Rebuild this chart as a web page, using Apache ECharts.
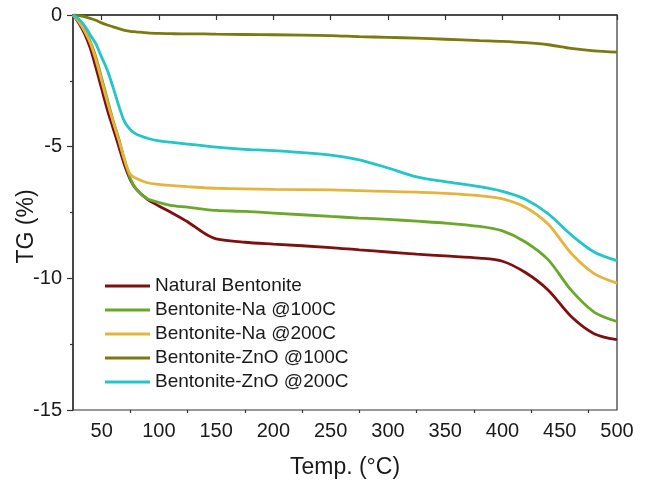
<!DOCTYPE html>
<html>
<head>
<meta charset="utf-8">
<script src="https://cdn.jsdelivr.net/npm/echarts@6/dist/echarts.min.js"></script>
<style>
  html, body { margin: 0; padding: 0; background: #fff; }
  #tg { width: 646px; height: 481px; }
</style>
</head>
<body>
<div id="tg"></div>
<script>
// temperature points (°C)
var temps = [25, 30, 35, 40, 45, 50, 55, 60, 65, 70, 75, 80, 90, 100, 110, 125, 140, 150, 175, 200, 250, 275, 300, 325, 350, 380, 400, 420, 440, 460, 480, 500];

// TG (%) for each sample
var natural  = [0, -0.3, -0.7, -1.25, -2.0, -2.8, -3.6, -4.3, -5.0, -5.7, -6.25, -6.6, -7.0, -7.25, -7.48, -7.85, -8.3, -8.5, -8.63, -8.7, -8.83, -8.92, -9.0, -9.08, -9.15, -9.23, -9.35, -9.78, -10.45, -11.45, -12.1, -12.33];
var na100    = [0, -0.2, -0.55, -1.0, -1.6, -2.4, -3.2, -4.0, -4.7, -5.5, -6.2, -6.6, -6.98, -7.12, -7.23, -7.3, -7.38, -7.42, -7.46, -7.52, -7.65, -7.71, -7.76, -7.83, -7.9, -8.03, -8.2, -8.62, -9.3, -10.45, -11.28, -11.64];
var na200    = [0, -0.25, -0.6, -1.05, -1.7, -2.5, -3.3, -4.05, -4.75, -5.5, -6.05, -6.2, -6.37, -6.43, -6.47, -6.52, -6.56, -6.58, -6.6, -6.62, -6.64, -6.67, -6.7, -6.73, -6.77, -6.86, -6.98, -7.3, -7.95, -9.05, -9.82, -10.18];
var zno100   = [0, -0.02, -0.06, -0.13, -0.2, -0.3, -0.38, -0.45, -0.52, -0.58, -0.62, -0.64, -0.68, -0.7, -0.71, -0.72, -0.72, -0.73, -0.74, -0.75, -0.78, -0.82, -0.85, -0.88, -0.92, -0.97, -1.0, -1.05, -1.13, -1.27, -1.36, -1.41];
var zno200   = [0, -0.15, -0.4, -0.75, -1.1, -1.6, -2.1, -2.75, -3.45, -4.05, -4.35, -4.52, -4.68, -4.78, -4.83, -4.9, -4.97, -5.02, -5.1, -5.15, -5.32, -5.5, -5.81, -6.15, -6.33, -6.52, -6.7, -7.0, -7.55, -8.35, -9.0, -9.33];

var names = ["Natural Bentonite", "Bentonite-Na @100C", "Bentonite-Na @200C", "Bentonite-ZnO @100C", "Bentonite-ZnO @200C"];
var xTicks = [50, 100, 150, 200, 250, 300, 350, 400, 450, 500];
var xMinorTicks = [75, 125, 175, 225, 275, 325, 375, 425, 475];

function pairs(vals) {
  return temps.map(function (t, i) { return [t, vals[i]]; });
}

function makeLine(name, vals, color) {
  return {
    name: name,
    type: "line",
    data: pairs(vals),
    smooth: 0.3,
    symbol: "none",
    color: color,
    lineStyle: { width: 2.8, color: color },
  };
}

var font = "Liberation Sans, Arial, sans-serif";
var myChart = echarts.init(document.getElementById("tg"));
myChart.setOption({
  animation: false,
  textStyle: { fontFamily: font, color: "#1a1a1a" },
  grid: {
    left: 73, right: 29, top: 15, bottom: 71,
    outerBoundsMode: "none",
    show: true, borderColor: "#333", borderWidth: 1.2,
  },
  legend: {
    orient: "vertical",
    left: 100,
    top: 271,
    icon: "rect",
    itemWidth: 45,
    itemHeight: 3,
    itemGap: 4,
    textStyle: { fontSize: 19, fontFamily: font, color: "#1a1a1a", lineHeight: 20 },
    data: names,
  },
  xAxis: [
    {
      type: "value",
      min: 25,
      max: 500,
      name: "Temp. (°C)",
      nameLocation: "middle",
      nameGap: 46,
      nameMoveOverlap: false,
      nameTextStyle: { fontSize: 23, fontFamily: font, color: "#1a1a1a" },
      splitLine: { show: false },
      axisLine: { lineStyle: { color: "#333", width: 1.5 } },
      axisTick: { customValues: xTicks, length: 5, lineStyle: { color: "#333", width: 1.2 } },
      axisLabel: { customValues: xTicks, fontSize: 20, margin: 11, color: "#1a1a1a" },
    },
    {
      // minor ticks only
      type: "value",
      min: 25,
      max: 500,
      position: "bottom",
      splitLine: { show: false },
      axisLine: { show: false },
      axisLabel: { show: false },
      axisTick: { customValues: xMinorTicks, length: 3, lineStyle: { color: "#333", width: 1.2 } },
    },
  ],
  yAxis: {
    type: "value",
    min: -15,
    max: 0,
    interval: 5,
    name: "TG (%)",
    nameLocation: "middle",
    nameGap: 35,
    nameMoveOverlap: false,
    nameTextStyle: { fontSize: 23, fontFamily: font, color: "#1a1a1a", padding: [0, 28, 0, 0] },
    splitLine: { show: false },
    axisLine: { show: true, lineStyle: { color: "#333", width: 1.5 } },
    axisTick: { show: true, length: 6, lineStyle: { color: "#333", width: 1.2 } },
    minorTick: { show: true, splitNumber: 2, length: 3, lineStyle: { color: "#333", width: 1.2 } },
    axisLabel: { fontSize: 20, margin: 11, color: "#1a1a1a" },
  },
  series: [
    makeLine(names[0], natural, "#7f1010"),
    makeLine(names[1], na100, "#6aa82a"),
    makeLine(names[2], na200, "#e6b43e"),
    makeLine(names[3], zno100, "#7b7a0e"),
    makeLine(names[4], zno200, "#22c5c9"),
  ],
});
</script>
</body>
</html>
